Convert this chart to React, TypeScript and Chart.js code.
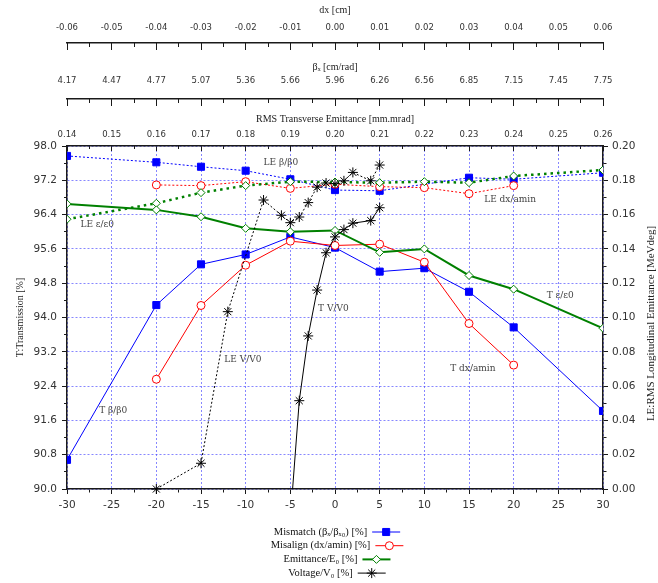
import React, { useEffect, useRef } from 'react';
import { Chart, registerables } from 'chart.js';

Chart.register(...registerables);

// ---------------- data ----------------
// Mismatch (beta_x / beta_x0)
const mismatchTX = [-30, -20, -15, -10, -5, 0, 5, 10, 15, 20, 30];
const mismatchT = [90.68, 94.29, 95.24, 95.47, 95.88, 95.63, 95.07, 95.15, 94.6, 93.77, 91.82];
const mismatchLEX = [-30, -20, -15, -10, -5, 0, 5, 15, 20, 30];
const mismatchLE = [0.1942, 0.1905, 0.1879, 0.1856, 0.1806, 0.1743, 0.1739, 0.1815, 0.1806, 0.1844];

// Misalign (dx / amin)
const misalignX = [-20, -15, -10, -5, 0, 5, 10, 15, 20];
const misalignT = [92.56, 94.28, 95.22, 95.78, 95.68, 95.71, 95.29, 93.86, 92.89];
const misalignLE = [0.1773, 0.1769, 0.1792, 0.1753, 0.1777, 0.1763, 0.1757, 0.1722, 0.1769];

// Emittance / E0
const emittanceX = [-30, -20, -15, -10, -5, 0, 5, 10, 15, 20, 30];
const emittanceT = [96.65, 96.51, 96.35, 96.08, 96.0, 96.03, 95.52, 95.6, 94.98, 94.66, 93.75];
const emittanceLE = [0.1573, 0.1666, 0.1728, 0.1769, 0.1792, 0.179, 0.1786, 0.1792, 0.1786, 0.1825, 0.186];

// Voltage / V0
const voltageTX = [-5, -4, -3, -2, -1, 0, 1, 2, 4, 5];
const voltageT = [89.3, 92.06, 93.57, 94.64, 95.51, 95.88, 96.05, 96.2, 96.26, 96.56];
const voltageLEX = [-20, -15, -12, -8, -6, -5, -4, -3, -2, -1, 0, 1, 2, 4, 5];
const voltageLE = [0.0, 0.015, 0.1034, 0.1685, 0.1596, 0.1553, 0.1586, 0.167, 0.176, 0.1784, 0.178, 0.1797, 0.1846, 0.1797, 0.1889];

// secondary top axes tick labels (at x = -30, -25, ..., 30)
const dxTickLabels = ['-0.06', '-0.05', '-0.04', '-0.03', '-0.02', '-0.01', '0.00', '0.01', '0.02', '0.03', '0.04', '0.05', '0.06'];
const betaTickLabels = ['4.17', '4.47', '4.77', '5.07', '5.36', '5.66', '5.96', '6.26', '6.56', '6.85', '7.15', '7.45', '7.75'];
const emitTickLabels = ['0.14', '0.15', '0.16', '0.17', '0.18', '0.19', '0.20', '0.21', '0.22', '0.23', '0.24', '0.25', '0.26'];

// in-plot curve labels (x in %, y on left axis)
const annoText = ['LE β/β0', 'LE ε/ε0', 'LE dx/amin', 'T ε/ε0', 'T dx/amin', 'T β/β0', 'LE V/V0', 'T V/V0'];
const annoX = [-8, -28.5, 16.7, 23.7, 12.9, -26.4, -12.4, -1.9];
const annoY = [97.6, 96.16, 96.74, 94.52, 92.8, 91.82, 93.01, 94.2];

// legend
const legendText = ['Mismatch (βₓ/βₓ₀) [%]', 'Misalign (dx/amin) [%]', 'Emittance/E₀ [%]', 'Voltage/V₀ [%]'];

// ---------------- styles ----------------
const BLUE = '#0000ff';
const RED = '#ff0000';
const GREEN = '#008000';
const BLACK = '#000000';
const AXIS = '#1a1a1a';
const GRID = 'rgba(70,70,255,0.65)';
const TICKTXT = '#333333';
const SERIF = "'Liberation Serif', 'DejaVu Serif', serif";
const SANS = "'DejaVu Sans', sans-serif";

const legendStyles = [
  { color: BLUE, width: 1, marker: 'rect', fill: BLUE, r: 5 },
  { color: RED, width: 1, marker: 'circle', fill: '#ffffff', r: 4 },
  { color: GREEN, width: 2, marker: 'rectRot', fill: '#ffffff', r: 4 },
  { color: BLACK, width: 1, marker: 'star', fill: BLACK, r: 5 },
];

const pts = (xs: number[], ys: number[]) => xs.map((x, i) => ({ x, y: ys[i] }));

const near = (a: number, b: number) => Math.abs(a - b) < 1e-6;
const isMajorX = (v: number) => near((v + 30) / 5, Math.round((v + 30) / 5));
const isMajorY = (v: number) => near((v - 90) / 0.8, Math.round((v - 90) / 0.8));
const isMajorY1 = (v: number) => near(v / 0.02, Math.round(v / 0.02));

function majorLabel(labels: string[], v: number) {
  if (!isMajorX(v)) return '';
  return labels[Math.round((v + 30) / 5)];
}

function drawMarker(ctx: CanvasRenderingContext2D, style: string, x: number, y: number, r: number, stroke: string, fill: string) {
  ctx.save();
  ctx.setLineDash([]);
  ctx.lineWidth = 1;
  ctx.strokeStyle = stroke;
  ctx.fillStyle = fill;
  ctx.beginPath();
  if (style === 'rect') {
    const s = r * Math.SQRT1_2;
    ctx.rect(x - s, y - s, 2 * s, 2 * s);
    ctx.fill();
    ctx.stroke();
  } else if (style === 'circle') {
    ctx.arc(x, y, r, 0, Math.PI * 2);
    ctx.fill();
    ctx.stroke();
  } else if (style === 'rectRot') {
    ctx.moveTo(x, y - r);
    ctx.lineTo(x + r, y);
    ctx.lineTo(x, y + r);
    ctx.lineTo(x - r, y);
    ctx.closePath();
    ctx.fill();
    ctx.stroke();
  } else {
    for (let k = 0; k < 4; k++) {
      const a = (k * Math.PI) / 4;
      ctx.moveTo(x - Math.cos(a) * r, y - Math.sin(a) * r);
      ctx.lineTo(x + Math.cos(a) * r, y + Math.sin(a) * r);
    }
    ctx.stroke();
  }
  ctx.restore();
}

const overlayPlugin = {
  id: 'overlay',
  afterDatasetsDraw(chart: any) {
    const { ctx, scales } = chart;
    ctx.save();
    ctx.font = `9px 'DejaVu Serif', serif`;
    ctx.fillStyle = '#444444';
    ctx.textAlign = 'left';
    ctx.textBaseline = 'middle';
    annoText.forEach((t, i) => {
      ctx.fillText(t, scales.x.getPixelForValue(annoX[i]), scales.y.getPixelForValue(annoY[i]));
    });
    ctx.restore();
  },
  afterDraw(chart: any) {
    const { ctx, chartArea } = chart;
    // right axis title, reading bottom to top
    ctx.save();
    ctx.font = `11px ${SERIF}`;
    ctx.fillStyle = '#222222';
    ctx.textAlign = 'center';
    ctx.textBaseline = 'middle';
    ctx.translate(chartArea.right + 48, (chartArea.top + chartArea.bottom) / 2 + 6);
    ctx.rotate(-Math.PI / 2);
    ctx.fillText('LE:RMS Longitudinal Emittance [MeVdeg]', 0, 0);
    ctx.restore();

    // legend
    ctx.save();
    ctx.font = `10.5px ${SERIF}`;
    ctx.textBaseline = 'middle';
    ctx.textAlign = 'left';
    const cx = (chartArea.left + chartArea.right) / 2 + 2;
    const sampleW = 28;
    const gap = 5;
    legendText.forEach((t, i) => {
      const st = legendStyles[i];
      const y = chartArea.bottom + 43 + i * 13.7;
      const tw = ctx.measureText(t).width;
      const x0 = cx - (tw + gap + sampleW) / 2;
      ctx.fillStyle = '#111111';
      ctx.fillText(t, x0, y);
      const lx = x0 + tw + gap;
      ctx.save();
      ctx.strokeStyle = st.color;
      ctx.lineWidth = st.width;
      ctx.beginPath();
      ctx.moveTo(lx, y);
      ctx.lineTo(lx + sampleW, y);
      ctx.stroke();
      ctx.restore();
      drawMarker(ctx, st.marker, lx + sampleW / 2, y, st.r, st.color, st.fill);
    });
    ctx.restore();
  },
};

function topScale(labels: string[], title: string, weight: number, boxH: number, tickLen: number, tickPad: number, titlePad: number, minorDash: number[]) {
  return {
    type: 'linear',
    axis: 'x',
    position: 'top',
    weight,
    min: -30,
    max: 30,
    afterFit: (s: any) => {
      s.height = boxH;
    },
    border: { display: true, color: AXIS, width: 1.5 },
    grid: {
      display: true,
      drawOnChartArea: false,
      drawTicks: true,
      tickLength: tickLen,
      tickColor: AXIS,
      tickWidth: 1,
      tickBorderDash: (c: any) => (c.tick && isMajorX(c.tick.value) ? [] : minorDash),
    },
    ticks: {
      stepSize: 2.5,
      autoSkip: false,
      maxRotation: 0,
      padding: tickPad,
      color: TICKTXT,
      font: { family: SANS, size: 8.5 },
      callback: (v: any) => majorLabel(labels, Number(v)),
    },
    title: {
      display: true,
      text: title,
      color: '#222222',
      font: { family: SERIF, size: 10 },
      padding: { top: titlePad, bottom: 0 },
    },
  };
}

function lineDs(label: string, data: any[], yAxisID: string, color: string, width: number, dash: number[], marker: string, r: number, fill: string, extra: any = {}) {
  return {
    label,
    data,
    yAxisID,
    xAxisID: 'x',
    borderColor: color,
    backgroundColor: color,
    borderWidth: width,
    borderDash: dash,
    pointStyle: marker,
    pointRadius: r,
    pointBorderColor: color,
    pointBackgroundColor: fill,
    pointBorderWidth: 1,
    fill: false,
    tension: 0,
    ...extra,
  };
}

export default function App() {
  const ref = useRef<HTMLCanvasElement>(null);

  useEffect(() => {
    document.body.style.margin = '0';
    const canvas = ref.current;
    if (!canvas) return;

    const datasets = [
      lineDs('T V/V0', pts(voltageTX, voltageT), 'y', BLACK, 1, [], 'star', 5, BLACK),
      lineDs('LE V/V0', pts(voltageLEX, voltageLE), 'y1', BLACK, 1, [2, 2], 'star', 5, BLACK, {
        clip: { left: 0, right: 0, top: 6, bottom: 6 },
      }),
      lineDs('T ε/ε0', pts(emittanceX, emittanceT), 'y', GREEN, 2, [], 'rectRot', 4, '#ffffff'),
      lineDs('LE ε/ε0', pts(emittanceX, emittanceLE), 'y1', GREEN, 2.5, [2.5, 4], 'rectRot', 4, '#ffffff'),
      lineDs('T dx/amin', pts(misalignX, misalignT), 'y', RED, 1, [], 'circle', 4, '#ffffff'),
      lineDs('LE dx/amin', pts(misalignX, misalignLE), 'y1', RED, 1, [2, 2], 'circle', 4, '#ffffff'),
      lineDs('T β/β0', pts(mismatchTX, mismatchT), 'y', BLUE, 1, [], 'rect', 5, BLUE),
      lineDs('LE β/β0', pts(mismatchLEX, mismatchLE), 'y1', BLUE, 1, [2, 2], 'rect', 5, BLUE),
    ];

    const chart = new Chart(canvas, {
      type: 'line',
      data: { datasets } as any,
      plugins: [overlayPlugin as any],
      options: {
        responsive: false,
        animation: false,
        devicePixelRatio: 1,
        layout: { padding: { left: 0, right: 0, top: 0, bottom: 69 } },
        plugins: {
          legend: { display: false },
          tooltip: { enabled: false },
        },
        scales: {
          x: {
            type: 'linear',
            position: 'bottom',
            min: -30,
            max: 30,
            afterFit: (s: any) => {
              s.height = 25;
            },
            border: { display: true, color: AXIS, width: 1.5, dash: [2, 2] },
            grid: {
              color: (c: any) => (c.tick && isMajorX(c.tick.value) ? GRID : 'rgba(0,0,0,0)'),
              lineWidth: 1,
              tickLength: 5,
              tickColor: AXIS,
              tickWidth: 1,
              tickBorderDash: (c: any) => (c.tick && isMajorX(c.tick.value) ? [] : [3, 10]),
            },
            ticks: {
              stepSize: 2.5,
              autoSkip: false,
              maxRotation: 0,
              padding: 5,
              color: TICKTXT,
              font: { family: SANS, size: 10.5 },
              callback: (v: any) => (isMajorX(Number(v)) ? String(Math.round(Number(v))) : ''),
            },
          },
          xRms: topScale(emitTickLabels, 'RMS Transverse Emittance [mm.mrad]', 0, 47, -5, 11, 14, [0, 2, 3, 10]),
          xBeta: topScale(betaTickLabels, 'βₓ [cm/rad]', 1, 56, -7, 20, 18, [0, 3, 4, 10]),
          xDx: topScale(dxTickLabels, 'dx [cm]', 2, 43, -7, 17, 4, [0, 3, 4, 10]),
          y: {
            type: 'linear',
            position: 'left',
            min: 90,
            max: 98,
            afterFit: (s: any) => {
              s.width = 67;
            },
            border: { display: true, color: AXIS, width: 1.5, dash: [2, 2] },
            grid: {
              color: (c: any) => (c.tick && isMajorY(c.tick.value) ? GRID : 'rgba(0,0,0,0)'),
              lineWidth: 1,
              tickLength: 5,
              tickColor: AXIS,
              tickWidth: 1,
              tickBorderDash: (c: any) => (c.tick && isMajorY(c.tick.value) ? [] : [0, 2, 3, 10]),
            },
            ticks: {
              stepSize: 0.4,
              autoSkip: false,
              padding: 5,
              color: TICKTXT,
              font: { family: SANS, size: 10.5 },
              callback: (v: any) => (isMajorY(Number(v)) ? Number(v).toFixed(1) : ''),
            },
            title: {
              display: true,
              text: 'T:Transmission [%]',
              color: '#222222',
              font: { family: SERIF, size: 10 },
              padding: { top: 14, bottom: 0 },
            },
          },
          y1: {
            type: 'linear',
            position: 'right',
            min: 0,
            max: 0.2,
            afterFit: (s: any) => {
              s.width = 55;
            },
            border: { display: true, color: AXIS, width: 1.5 },
            grid: {
              drawOnChartArea: false,
              tickLength: 5,
              tickColor: AXIS,
              tickWidth: 1,
              tickBorderDash: (c: any) => (c.tick && isMajorY1(c.tick.value) ? [] : [3, 10]),
            },
            ticks: {
              stepSize: 0.01,
              autoSkip: false,
              padding: 4,
              color: TICKTXT,
              font: { family: SANS, size: 10.5 },
              callback: (v: any) => (isMajorY1(Number(v)) ? Number(v).toFixed(2) : ''),
            },
          },
        },
      } as any,
    });

    return () => chart.destroy();
  }, []);

  return <canvas ref={ref} width={658} height={583} style={{ display: 'block', width: 658, height: 583 }} />;
}
